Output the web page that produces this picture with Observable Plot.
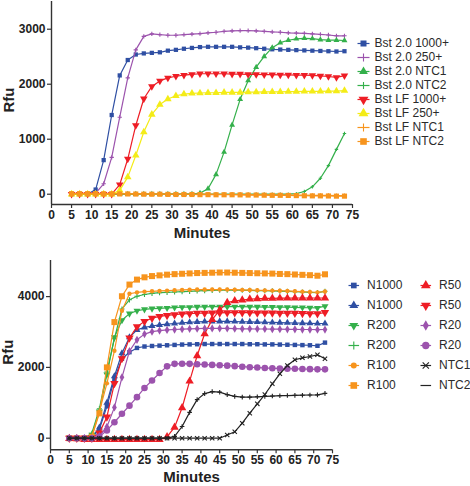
<!DOCTYPE html>
<html><head><meta charset="utf-8">
<script src="https://cdn.jsdelivr.net/npm/d3@7"></script>
<script src="https://cdn.jsdelivr.net/npm/@observablehq/plot@0.6"></script>
<style>
body{margin:0;background:#fff;}
#root{position:relative;width:470px;height:486px;background:#fff;}
#root svg{position:absolute;overflow:visible;}
</style></head><body><div id="root"></div>
<script>
// ---------- data ----------
const minutes = [5,7,9,11,13,15,17,19,21,23,25,27,29,31,33,35,37,39,41,43,45,47,49,51,53,55,57,59,61,63,65,67,69,71,73];
const xTicks = [0,5,10,15,20,25,30,35,40,45,50,55,60,65,70,75];
const topYTicks = [0,1000,2000,3000];
const botYTicks = [0,2000,4000];

// top panel series
const topNames = ["Bst 2.0 1000+","Bst 2.0 250+","Bst 2.0 NTC1","Bst 2.0 NTC2","Bst LF 1000+","Bst LF 250+","Bst LF NTC1","Bst LF NTC2"];
const bst20_1000 = [0,0,0,85,620,1440,2160,2440,2540,2560,2570,2580,2610,2625,2645,2660,2675,2680,2680,2680,2680,2670,2665,2655,2645,2635,2630,2625,2620,2615,2610,2605,2600,2595,2600];
const bst20_250  = [0,0,0,20,190,670,1400,2115,2625,2870,2915,2900,2890,2890,2900,2910,2920,2935,2945,2960,2970,2975,2975,2970,2960,2950,2945,2935,2930,2925,2915,2905,2895,2880,2880];
const bst20_ntc1 = [0,0,0,0,0,0,0,0,0,0,0,0,0,0,0,0,20,100,360,765,1260,1725,2065,2310,2505,2665,2755,2800,2825,2835,2830,2810,2800,2800,2795];
const bst20_ntc2 = [0,0,0,0,0,0,0,0,0,0,0,0,0,0,0,0,0,0,0,0,0,0,0,0,0,0,0,0,10,50,135,290,520,815,1105];
const bstLF_1000 = [0,0,0,0,0,0,175,640,1250,1735,1960,2060,2115,2145,2165,2180,2190,2190,2190,2190,2185,2185,2180,2180,2175,2175,2170,2170,2165,2165,2160,2150,2140,2125,2155];
const bstLF_250  = [0,0,0,0,0,0,70,310,705,1130,1450,1630,1730,1790,1820,1835,1840,1845,1845,1850,1850,1850,1855,1855,1860,1860,1860,1865,1865,1870,1870,1870,1875,1875,1885];
const bstLF_ntc1 = [15,15,15,12,10,10,8,5,5,5,3,0,0,0,0,0,0,0,-2,-5,-5,-5,-8,-10,-10,-12,-12,-15,-15,-18,-20,-20,-22,-25,-25];
const bstLF_ntc2 = [10,10,10,10,8,8,5,5,3,0,0,0,-3,-5,-5,-5,-8,-8,-10,-10,-10,-12,-15,-15,-18,-20,-20,-22,-25,-28,-30,-30,-32,-35,-35];
const topValues = [bst20_1000,bst20_250,bst20_ntc1,bst20_ntc2,bstLF_1000,bstLF_250,bstLF_ntc1,bstLF_ntc2];

// bottom panel series
const botNames = ["N1000","N1000","R200","R200","R100","R100","R50","R50","R20","R20","NTC1","NTC2"];
const n1000_sq  = [0,0,0,10,250,900,1670,2245,2430,2550,2590,2605,2615,2625,2635,2645,2650,2655,2660,2660,2660,2660,2660,2660,2655,2655,2650,2650,2645,2640,2635,2630,2625,2610,2700];
const n1000_tri = [0,0,0,20,300,1000,1750,2400,2850,3060,3130,3170,3200,3220,3240,3260,3275,3285,3295,3300,3300,3300,3295,3290,3285,3280,3275,3270,3265,3260,3255,3250,3245,3240,3240];
const r200_dn   = [0,0,0,100,750,1800,2850,3330,3520,3600,3640,3660,3670,3680,3690,3700,3700,3710,3710,3715,3715,3715,3715,3715,3710,3710,3705,3705,3700,3700,3695,3690,3685,3680,3730];
const r200_pl   = [0,0,0,140,830,1870,2810,3650,3910,4010,4060,4090,4110,4120,4130,4140,4150,4160,4170,4175,4180,4180,4180,4180,4175,4170,4165,4160,4155,4150,4140,4130,4120,4115,4150];
const r100_ci   = [0,0,0,60,750,1550,2470,3600,4080,4120,4140,4150,4160,4170,4180,4190,4195,4200,4200,4200,4200,4200,4195,4190,4185,4180,4175,4170,4165,4160,4150,4140,4130,4120,4145];
const r100_sq   = [0,0,0,40,700,2000,3280,4010,4340,4480,4545,4580,4600,4620,4635,4645,4655,4665,4670,4675,4680,4680,4675,4670,4665,4660,4655,4650,4640,4635,4625,4615,4605,4590,4630];
const r50_up    = [-10,-20,-40,-40,-40,-40,-40,-40,-40,-40,-40,-40,-40,40,310,860,1610,2330,2950,3350,3620,3830,3880,3900,3930,3940,3950,3950,3955,3955,3960,3960,3960,3960,3960];
const r50_dn    = [0,0,0,0,150,600,1550,2250,2830,3150,3300,3390,3440,3470,3490,3510,3520,3530,3535,3540,3540,3545,3545,3545,3545,3540,3540,3540,3535,3535,3530,3525,3520,3515,3550];
const r20_di    = [0,0,0,0,60,320,870,1720,2460,2780,2940,3010,3040,3060,3070,3080,3090,3095,3100,3100,3100,3100,3095,3090,3090,3085,3085,3080,3080,3075,3075,3070,3070,3065,3070];
const r20_ci    = [0,0,0,0,40,220,450,690,920,1160,1420,1630,1840,2030,2100,2105,2100,2090,2080,2070,2060,2050,2035,2020,2005,1995,1985,1975,1970,1965,1960,1955,1950,1945,1945];
const ntc1      = [0,0,0,0,0,0,0,0,0,0,0,0,0,0,0,0,0,0,0,0,0,90,180,424,706,970,1234,1536,1819,2054,2215,2271,2308,2356,2243];
const ntc2      = [0,0,0,0,0,0,0,0,0,0,0,0,0,0,50,330,730,1090,1260,1315,1300,1230,1180,1160,1160,1170,1180,1190,1200,1205,1210,1215,1220,1225,1265];
const botValues = [n1000_sq,n1000_tri,r200_dn,r200_pl,r100_ci,r100_sq,r50_up,r50_dn,r20_di,r20_ci,ntc1,ntc2];

// ---------- styles ----------
const BLUE="#2f4fa3", PURPLE="#9c53ad", GREEN="#34b04b", RED="#ee1d25", YELLOW="#f4ec17", ORANGE="#f7941d", BLACK="#222";
// [color, symbol, r, rotate, stroked]
const topStyle = [
  [BLUE,"square",2.4,0,false],
  [PURPLE,"plus",1.5,0,true],
  [GREEN,"triangle",2.2,0,false],
  [GREEN,"plus",1.2,0,true],
  [RED,"triangle",2.8,180,false],
  [YELLOW,"triangle",2.8,0,false],
  [ORANGE,"plus",1.5,0,true],
  [ORANGE,"square",2.9,0,false]
];
const botStyle = [
  [BLUE,"square",2.5,0,false],
  [BLUE,"triangle",2.6,0,false],
  [GREEN,"triangle",2.6,180,false],
  [GREEN,"plus",1.8,0,true],
  [ORANGE,"circle",2.2,0,false],
  [ORANGE,"square",3.4,0,false],
  [RED,"triangle",3.1,0,false],
  [RED,"triangle",3.1,180,false],
  [PURPLE,"diamond",2.5,0,false],
  [PURPLE,"circle",3.3,0,false],
  [BLACK,"times",2.1,0,true],
  [BLACK,"plus",1.6,0,true]
];

function seriesMarks(values, styles) {
  const marks = [];
  values.forEach((vals, i) => {
    const [color, symbol, r, rotate, stroked] = styles[i];
    const data = minutes.map((t, j) => ({t, v: vals[j]}));
    marks.push(Plot.line(data, {x: "t", y: "v", stroke: color, strokeWidth: 1.2}));
    marks.push(Plot.dot(data, stroked
      ? {x: "t", y: "v", symbol, r, rotate, stroke: color, strokeWidth: 1.1, fill: "none"}
      : {x: "t", y: "v", symbol, r, rotate, fill: color, stroke: "none"}));
  });
  return marks;
}

function panel(values, styles, o) {
  return Plot.plot({
    width: 470, height: o.height,
    marginLeft: o.ml, marginRight: o.mr, marginTop: o.mt, marginBottom: o.mb,
    style: {fontFamily: "'Liberation Sans', Arial, sans-serif", fontSize: "12px", fontWeight: "bold", color: "#222", background: "transparent", overflow: "visible"},
    x: {domain: [0, 75]},
    y: {domain: o.yDomain},
    marks: [
      Plot.axisX({ticks: xTicks, tickFormat: d3.format("d"), tickSize: 4, tickPadding: 2, label: null, fontWeight: "bold", stroke: "#333", strokeWidth: 1.2}),
      Plot.axisY({ticks: o.yTicks, tickFormat: d3.format("d"), tickSize: 4, tickPadding: 2, label: null, fontWeight: "bold", stroke: "#333", strokeWidth: 1.2}),
      Plot.ruleX([0], {stroke: "#333", strokeWidth: 1.4}),
      Plot.ruleY([o.yDomain[0]], {stroke: "#333", strokeWidth: 1.4}),
      ...seriesMarks(values, styles),
      Plot.text(["Minutes"], {frameAnchor: "bottom", dy: o.xTitleDy, lineAnchor: "middle", fontSize: 15, fontWeight: "bold", fill: "#222"}),
      Plot.text(["Rfu"], {frameAnchor: "left", dx: -42, dy: -3, rotate: -90, textAnchor: "middle", lineAnchor: "middle", fontSize: 15, fontWeight: "bold", fill: "#222"})
    ]
  });
}

function legend(names, styles, o) {
  const rows = names.map((name, i) => ({
    name, i, col: o.cols > 1 ? Math.floor(i / o.rows) : 0, row: i % o.rows,
    color: styles[i][0], symbol: styles[i][1], r: styles[i][2], rotate: styles[i][3], stroked: styles[i][4],
    marker: !(o.noMarker || []).includes(i)
  }));
  const filled = rows.filter(d => d.marker && !d.stroked);
  const stroked = rows.filter(d => d.marker && d.stroked);
  return Plot.plot({
    width: o.width, height: o.height, margin: 0,
    style: {fontFamily: "'Liberation Sans', Arial, sans-serif", background: "transparent", overflow: "visible"},
    x: {domain: [0, o.cols], range: o.xRange},
    y: {type: "point", domain: d3.range(o.rows), range: o.yRange},
    axis: null,
    marks: [
      Plot.link(rows, {x1: d => d.col, x2: d => d.col + o.lineFrac, y1: "row", y2: "row", stroke: "color", strokeWidth: 1.2}),
      Plot.dot(filled, {x: d => d.col + o.lineFrac / 2, y: "row", symbol: "symbol", r: "r", rotate: "rotate", fill: "color", stroke: "none"}),
      Plot.dot(stroked, {x: d => d.col + o.lineFrac / 2, y: "row", symbol: "symbol", r: "r", stroke: "color", strokeWidth: 1.1, fill: "none"}),
      Plot.text(rows, {x: d => d.col + o.lineFrac, y: "row", text: "name", dx: o.textDx, textAnchor: "start", fontSize: o.fontSize, fill: "#2a2a2a"})
    ]
  });
}

const root = document.getElementById("root");

const topPlot = panel(topValues, topStyle, {height: 240, ml: 51, mr: 118, mt: 1, mb: 36, yDomain: [-187, 3504], yTicks: topYTicks, xTitleDy: 29});
topPlot.style.left = "0px"; topPlot.style.top = "0px";
root.appendChild(topPlot);

const botPlot = panel(botValues, botStyle, {height: 246, ml: 50, mr: 138, mt: 20, mb: 36.7, yDomain: [-328, 5020], yTicks: botYTicks, xTitleDy: 27});
botPlot.style.left = "0px"; botPlot.style.top = "240px";
root.appendChild(botPlot);

const topLeg = legend(topNames, topStyle, {width: 118, height: 170, cols: 1, rows: 8, xRange: [5, 17], lineFrac: 1, textDx: 5, yRange: [32.3, 151.3], fontSize: 12});
topLeg.style.left = "352px"; topLeg.style.top = "0px";
root.appendChild(topLeg);

const botLeg = legend(botNames, botStyle, {width: 138, height: 246, cols: 2, rows: 6, xRange: [16, 160], lineFrac: 0.147, textDx: 8, yRange: [31.7, 157.3], fontSize: 12, noMarker: [11]});
botLeg.style.left = "332px"; botLeg.style.top = "240px";
root.appendChild(botLeg);
</script>
</body></html>
